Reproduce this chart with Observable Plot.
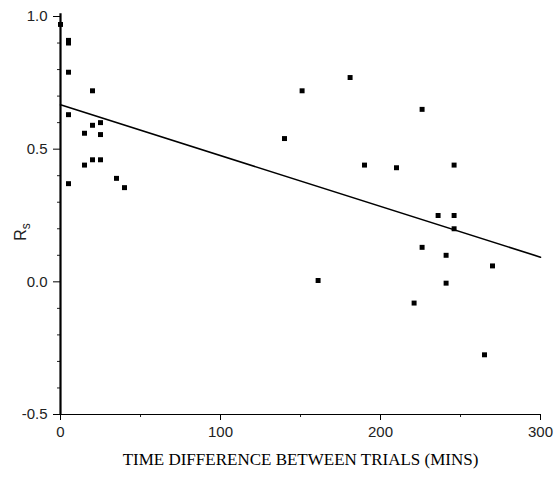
<!DOCTYPE html>
<html>
<head>
<meta charset="utf-8">
<script src="https://cdn.jsdelivr.net/npm/d3@7"></script>
<script src="https://cdn.jsdelivr.net/npm/@observablehq/plot@0.6"></script>
<style>
  html, body { margin: 0; padding: 0; background: #fff; }
  #chart { width: 557px; height: 487px; }
</style>
</head>
<body>
<div id="chart"></div>
<script>
// Data
const timeDiff = [0, 5, 5, 5, 5, 5, 15, 15, 20, 20, 20, 25, 25, 25, 35, 40,
  140, 151, 161, 181, 190, 210, 221, 226, 226, 236, 241, 241, 246, 246, 246, 265, 270];
const rsValues = [0.97, 0.91, 0.90, 0.79, 0.63, 0.37, 0.56, 0.44, 0.72, 0.59, 0.46, 0.60, 0.555, 0.46, 0.39, 0.355,
  0.54, 0.72, 0.005, 0.77, 0.44, 0.43, -0.08, 0.65, 0.13, 0.25, 0.10, -0.005, 0.44, 0.25, 0.20, -0.275, 0.06];
const fitX = [0, 300];
const fitY = [0.667, 0.093];
const xTicks = [0, 100, 200, 300];
const xTickLabels = ["0", "100", "200", "300"];
const xMinorTicks = [50, 150, 250];
const yTicks = [-0.5, 0.0, 0.5, 1.0];
const yTickLabels = ["-0.5", "0.0", "0.5", "1.0"];
const yMinorTicks = [-0.4, -0.3, -0.2, -0.1, 0.1, 0.2, 0.3, 0.4, 0.6, 0.7, 0.8, 0.9];
const xTitle = "TIME DIFFERENCE BETWEEN TRIALS (MINS)";

const points = timeDiff.map((t, i) => ({t, r: rsValues[i]}));
const fit = fitX.map((t, i) => ({t, r: fitY[i]}));

const chart = Plot.plot({
  width: 557,
  height: 487,
  marginLeft: 60,
  marginRight: 17,
  marginTop: 16,
  marginBottom: 73,
  style: {fontFamily: "'Liberation Sans', Arial, sans-serif", fontSize: "15px", color: "#222", background: "#fff"},
  x: {domain: [0, 300], label: null},
  y: {domain: [-0.5, 1.0], label: null},
  marks: [
    Plot.axisX({ticks: xMinorTicks, tickSize: 3, text: null, label: null}),
    Plot.axisX({ticks: xTicks, tickSize: 6, tickPadding: 6, tickFormat: d => xTickLabels[xTicks.indexOf(d)], label: null, stroke: "#000", fill: "#222", fontSize: 15}),
    Plot.axisY({ticks: yMinorTicks, tickSize: 3, text: null, label: null}),
    Plot.axisY({ticks: yTicks, tickSize: 7, tickPadding: 6, tickFormat: d => yTickLabels[yTicks.indexOf(d)], label: null, stroke: "#000", fill: "#222", fontSize: 15}),
    Plot.ruleY([-0.5], {stroke: "#000", strokeWidth: 1.2}),
    Plot.ruleX([0], {stroke: "#000", strokeWidth: 2.2, y1: -0.5, y2: 1.01}),
    Plot.line(fit, {x: "t", y: "r", stroke: "#000", strokeWidth: 1.6}),
    Plot.dot(points, {x: "t", y: "r", symbol: "square", r: 2.8, fill: "#000", stroke: "none"}),
    Plot.text([xTitle], {frameAnchor: "bottom", dy: 50, text: d => d, fontFamily: "'Liberation Serif', 'Times New Roman', serif", fontSize: 17, fill: "#000"})
  ]
});

// y-axis label "R" with subscript "s"
const svg = d3.select(chart);
const lab = svg.append("text")
  .attr("transform", "translate(26,232) rotate(-90)")
  .attr("font-family", "'Liberation Sans', Arial, sans-serif")
  .attr("font-size", 16)
  .attr("fill", "#222")
  .attr("text-anchor", "middle");
lab.append("tspan").text("R");
lab.append("tspan").attr("dy", 4).attr("font-size", 12).text("s");

document.getElementById("chart").appendChild(chart);
</script>
</body>
</html>
